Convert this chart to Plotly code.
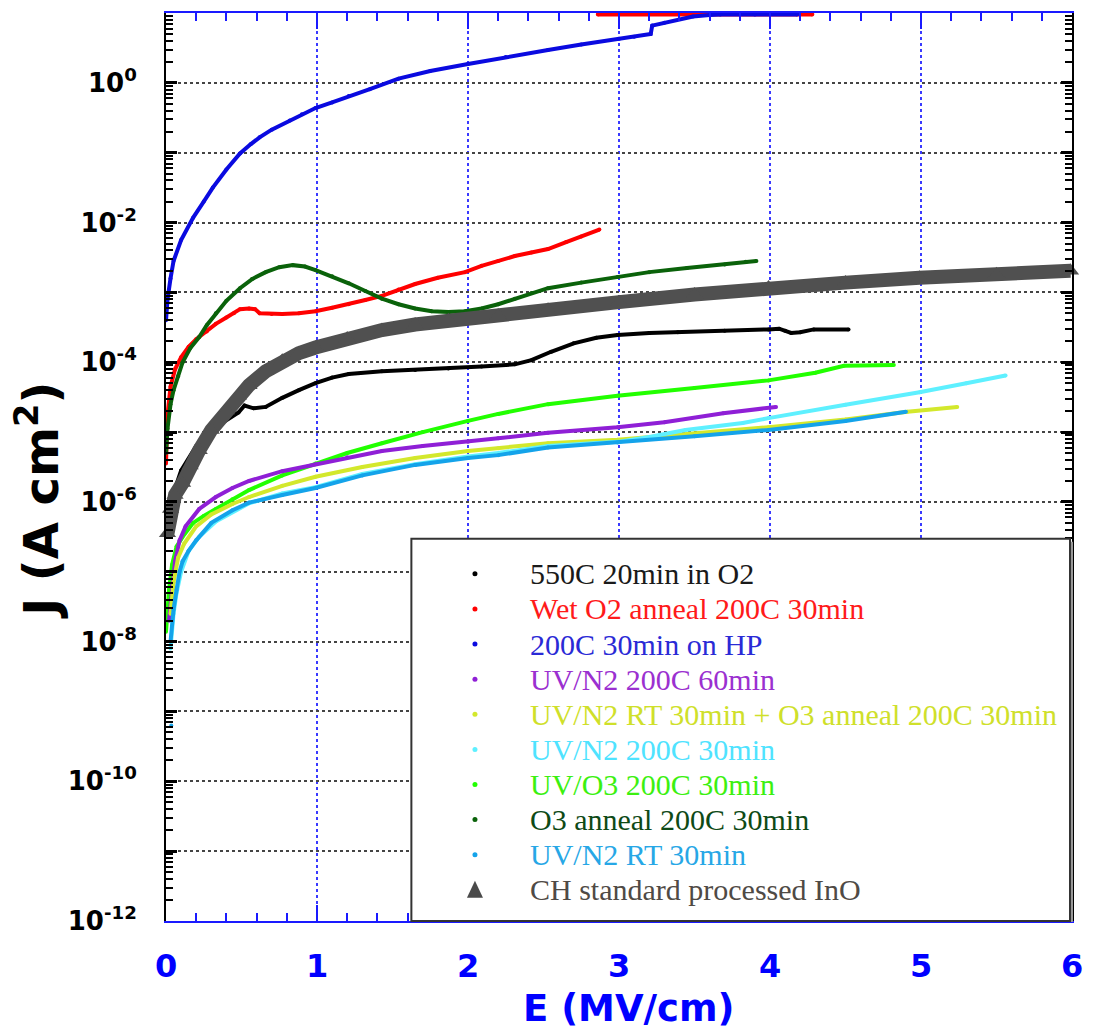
import numpy as np
import plotly.graph_objects as go

# ---- measured J-E curves: field E (MV/cm) and log10 of current density J (A/cm^2) ----
E_550C = [0.0, 0.03, 0.1, 0.2, 0.35, 0.48, 0.52, 0.58, 0.66, 0.77, 0.88, 0.99, 1.1, 1.21, 1.43, 1.65,
          1.87, 2.09, 2.31, 2.42, 2.55, 2.7, 2.85, 2.99, 3.2, 3.39, 3.7, 3.99, 4.06, 4.1, 4.14, 4.2, 4.29, 4.52]
logJ_550C = [-6.5, -6.0, -5.55, -5.2, -4.9, -4.72, -4.62, -4.66, -4.64, -4.51, -4.4, -4.3, -4.22, -4.17, -4.13, -4.11,
             -4.09, -4.06, -4.03, -3.97, -3.85, -3.73, -3.65, -3.61, -3.58, -3.57, -3.55, -3.53, -3.52, -3.55, -3.58, -3.57, -3.53, -3.53]

E_wetO2 = [0.0, 0.005, 0.01, 0.03, 0.06, 0.1, 0.15, 0.2, 0.27, 0.33, 0.40, 0.45, 0.49, 0.55, 0.59, 0.62, 0.7, 0.77,
           0.88, 0.99, 1.1, 1.21, 1.32, 1.43, 1.54, 1.65, 1.8, 1.98, 2.09, 2.2, 2.31, 2.42, 2.53, 2.65, 2.75, 2.87,
           None, 2.86, 4.28]
logJ_wetO2 = [-5.45, -5.0, -4.75, -4.35, -4.1, -3.93, -3.78, -3.67, -3.56, -3.45, -3.36, -3.3, -3.24, -3.23, -3.24, -3.3, -3.31, -3.31,
              -3.3, -3.27, -3.22, -3.17, -3.11, -3.05, -2.96, -2.88, -2.79, -2.71, -2.62, -2.55, -2.48, -2.43, -2.38, -2.28, -2.2, -2.1,
              None, 0.98, 0.98]

E_hp = [0.0, 0.01, 0.03, 0.05, 0.1, 0.18, 0.25, 0.31, 0.4, 0.49, 0.56, 0.62, 0.7, 0.82, 0.9, 0.99, 1.1, 1.21, 1.35,
        1.54, 1.75, 2.0, 2.25, 2.53, 2.75, 3.0, 3.1, 3.21, 3.22, 3.3, 3.49, 3.6, 3.67, 3.9, 4.18]
logJ_hp = [-3.4, -3.1, -2.8, -2.55, -2.25, -1.93, -1.7, -1.5, -1.24, -1.01, -0.88, -0.78, -0.67, -0.54, -0.45, -0.36, -0.28, -0.19, -0.09,
           0.06, 0.17, 0.27, 0.37, 0.47, 0.55, 0.63, 0.66, 0.70, 0.82, 0.86, 0.95, 0.97, 0.98, 0.98, 0.98]

E_uvn2_60 = [0.02, 0.04, 0.06, 0.09, 0.13, 0.22, 0.33, 0.44, 0.55, 0.77, 0.99, 1.2, 1.43, 1.7, 2.0, 2.2, 2.53, 2.99, 3.3, 3.69, 4.04]
logJ_uvn2_60 = [-7.7, -7.2, -6.85, -6.55, -6.35, -6.1, -5.93, -5.8, -5.7, -5.56, -5.46, -5.36, -5.27, -5.2, -5.14, -5.09, -5.01,
                -4.93, -4.86, -4.73, -4.64]

E_uvn2rt_o3 = [0.03, 0.05, 0.08, 0.12, 0.2, 0.3, 0.44, 0.55, 0.77, 0.99, 1.3, 1.65, 2.0, 2.2, 2.53, 2.99, 3.5, 3.99, 4.5, 4.91, 5.24]
logJ_uvn2rt_o3 = [-7.6, -7.15, -6.8, -6.6, -6.35, -6.18, -6.03, -5.93, -5.77, -5.64, -5.5, -5.37, -5.27, -5.23, -5.16, -5.11,
                  -5.02, -4.93, -4.82, -4.71, -4.64]

E_uvn2_30 = [0.03, 0.05, 0.07, 0.1, 0.15, 0.22, 0.33, 0.55, 0.77, 0.99, 1.3, 1.65, 2.0, 2.2, 2.53, 2.99, 3.2, 3.44, 3.82,
             3.99, 4.5, 4.99, 5.3, 5.56]
logJ_uvn2_30 = [-8.1, -7.6, -7.3, -7.0, -6.7, -6.5, -6.28, -6.02, -5.88, -5.79, -5.6, -5.46, -5.35, -5.3, -5.2, -5.14, -5.07,
                -4.97, -4.87, -4.8, -4.61, -4.43, -4.3, -4.19]

E_uvo3 = [0.0, 0.02, 0.04, 0.07, 0.11, 0.18, 0.25, 0.33, 0.44, 0.55, 0.77, 0.99, 1.2, 1.43, 1.7, 2.0, 2.2, 2.53, 2.99, 3.5,
          3.99, 4.3, 4.49, 4.82]
logJ_uvo3 = [-7.86, -7.26, -6.9, -6.64, -6.5, -6.3, -6.2, -6.1, -5.96, -5.83, -5.62, -5.45, -5.3, -5.16, -5.0, -4.84, -4.74,
             -4.6, -4.48, -4.37, -4.26, -4.15, -4.05, -4.04]

E_o3 = [0.0, 0.01, 0.03, 0.05, 0.08, 0.11, 0.16, 0.22, 0.27, 0.33, 0.4, 0.49, 0.57, 0.66, 0.75, 0.84, 0.92, 0.99, 1.1,
        1.21, 1.32, 1.43, 1.54, 1.65, 1.76, 1.87, 1.98, 2.09, 2.2, 2.31, 2.42, 2.53, 2.75, 2.99, 3.2, 3.45, 3.7, 3.84, 3.91]
logJ_o3 = [-5.3, -4.95, -4.6, -4.4, -4.2, -4.0, -3.8, -3.64, -3.47, -3.3, -3.12, -2.94, -2.81, -2.71, -2.64, -2.61, -2.63,
           -2.68, -2.77, -2.87, -2.98, -3.09, -3.17, -3.23, -3.27, -3.28, -3.27, -3.23, -3.17, -3.09, -3.01, -2.94,
           -2.86, -2.78, -2.71, -2.65, -2.6, -2.56, -2.55]

E_uvn2rt = [0.035, None, 0.03, 0.05, 0.07, 0.09, 0.11, 0.15, 0.2, 0.3, 0.44, 0.55, 0.77, 0.99, 1.3, 1.65, 2.0, 2.2, 2.53,
            2.99, 3.5, 3.99, 4.5, 4.9]
logJ_uvn2rt = [-9.2, None, -8.0, -7.54, -7.26, -7.0, -6.85, -6.7, -6.55, -6.3, -6.12, -6.01, -5.9, -5.8, -5.62, -5.47, -5.37,
               -5.33, -5.22, -5.15, -5.06, -4.97, -4.84, -4.71]

E_ch = [0.01, 0.03, 0.06, 0.11, 0.16, 0.22, 0.3, 0.4, 0.48, 0.55, 0.66, 0.77, 0.88, 0.99, 1.2, 1.43, 1.65, 1.87, 2.2,
        2.53, 3.0, 3.5, 3.99, 4.5, 4.99, 5.5, 5.99]
logJ_ch = [-6.45, -6.1, -5.9, -5.73, -5.48, -5.26, -4.97, -4.69, -4.48, -4.33, -4.13, -3.98, -3.87, -3.79, -3.66, -3.54,
           -3.46, -3.4, -3.33, -3.25, -3.14, -3.03, -2.93, -2.86, -2.79, -2.74, -2.69]

legend_names = [
    "550C 20min in O2",
    "Wet O2 anneal 200C 30min",
    "200C 30min on HP",
    "UV/N2 200C 60min",
    "UV/N2 RT 30min + O3 anneal 200C 30min",
    "UV/N2 200C 30min",
    "UV/O3 200C 30min",
    "O3 anneal 200C 30min",
    "UV/N2 RT 30min",
    "CH standard processed InO",
]
line_colors = ["#000000", "#ff0000", "#0a0ae0", "#8f1fd6", "#d3e82c", "#5ef0ff", "#22ff00", "#0a620a", "#14a3ea", "#505050"]
text_colors = ["#1a1a1a", "#ff1a1a", "#2a2ad6", "#9b30d0", "#cfe02a", "#4fe3ff", "#3cf010", "#0e4a16", "#27a7e6", "#4f4a45"]

series = [
    (E_550C, logJ_550C), (E_wetO2, logJ_wetO2), (E_hp, logJ_hp), (E_uvn2_60, logJ_uvn2_60),
    (E_uvn2rt_o3, logJ_uvn2rt_o3), (E_uvn2_30, logJ_uvn2_30), (E_uvo3, logJ_uvo3), (E_o3, logJ_o3),
    (E_uvn2rt, logJ_uvn2rt), (E_ch, logJ_ch),
]


def to_J(vals):
    return [None if v is None else 10.0 ** v for v in vals]


fig = go.Figure()

# drawing order: lower layers first, HP curve last so it sits on top
draw_order = [0, 1, 7, 6, 3, 4, 5, 8, 9, 2]
for i in draw_order:
    E, lj = series[i]
    if i == 9:
        fig.add_trace(go.Scatter(
            x=E, y=to_J(lj), mode="lines+markers", showlegend=False, cliponaxis=False,
            line=dict(color=line_colors[i], width=14),
            marker=dict(symbol="triangle-up", size=15, color=line_colors[i]),
        ))
    else:
        fig.add_trace(go.Scatter(
            x=E, y=to_J(lj), mode="lines+markers", showlegend=False,
            line=dict(color=line_colors[i], width=4),
            marker=dict(size=4, color=line_colors[i]),
        ))

# ---- plot-area geometry in pixels (for placing the key box and titles) ----
W, H = 1094, 1035
L, R, T, B = 166, 1078, 11, 921


def px2x(px):
    return (px - L) / (R - L)


def py2y(py):
    return (B - py) / (B - T)


shapes = []
annotations = []

# key box with a soft drop shadow
box_x0, box_x1, box_y0, box_y1 = 413, 1076, 538, 921
shapes.append(dict(type="rect", xref="paper", yref="paper", layer="above",
                   x0=px2x(box_x0 + 3), x1=px2x(box_x1 + 3), y0=py2y(box_y1 + 1), y1=py2y(box_y0 + 3),
                   line=dict(width=0), fillcolor="#9a9a9a"))
shapes.append(dict(type="rect", xref="paper", yref="paper", layer="above",
                   x0=px2x(box_x0), x1=px2x(box_x1), y0=py2y(box_y1), y1=py2y(box_y0),
                   line=dict(color="#333333", width=2), fillcolor="white"))

row0, row_step = 573, 35.2
mark_x, text_x = 477, 530
for i, name in enumerate(legend_names):
    py = row0 + row_step * i
    if i == 9:
        shapes.append(dict(type="path", xref="paper", yref="paper", layer="above",
                           xsizemode="pixel", ysizemode="pixel",
                           xanchor=px2x(mark_x), yanchor=py2y(py),
                           path="M -8,-8 L 8,-8 L 0,9 Z",
                           fillcolor="#4a4a4a", line=dict(width=0)))
    else:
        shapes.append(dict(type="circle", xref="paper", yref="paper", layer="above",
                           xsizemode="pixel", ysizemode="pixel",
                           xanchor=px2x(mark_x), yanchor=py2y(py),
                           x0=-2.5, x1=2.5, y0=-2.5, y1=2.5,
                           fillcolor=line_colors[i], line=dict(width=0)))
    annotations.append(dict(xref="paper", yref="paper", x=px2x(text_x), y=py2y(py),
                            xanchor="left", yanchor="middle", showarrow=False, text=name,
                            font=dict(family="Liberation Serif, Times New Roman, serif", size=30,
                                      color=text_colors[i])))

# axis titles
annotations.append(dict(xref="paper", yref="paper", x=px2x(632), y=py2y(1009),
                        xanchor="center", yanchor="middle", showarrow=False,
                        text="<b>E (MV/cm)</b>",
                        font=dict(family="DejaVu Sans, Arial, sans-serif", size=37, color="#0000ff")))
annotations.append(dict(xref="paper", yref="paper", x=px2x(37), y=py2y(499),
                        xanchor="center", yanchor="middle", showarrow=False, textangle=-90,
                        text="<b>J (A cm<sup>2</sup>)</b>",
                        font=dict(family="DejaVu Sans, Arial, sans-serif", size=48, color="black")))

# y ticks: every decade, labels on even decades
decades = list(range(-12, 2))
y_tickvals = [10.0 ** k for k in decades]
y_ticktext = [f"<b>10<sup>{k}</sup></b>" if (k % 2 == 0 and k <= 0) else "" for k in decades]
y_minor = [m * 10.0 ** k for k in range(-12, 1) for m in range(2, 10)]

blue_axis = "#1a1aff"
fig.update_layout(
    width=W, height=H,
    margin=dict(l=L, r=W - R, t=T, b=H - B),
    paper_bgcolor="white", plot_bgcolor="white",
    showlegend=False,
    shapes=shapes, annotations=annotations,
    xaxis=dict(
        range=[0, 6], dtick=1, tick0=0,
        showline=True, linecolor=blue_axis, linewidth=2, mirror="ticks",
        ticks="inside", ticklen=16, tickwidth=2, tickcolor=blue_axis,
        minor=dict(dtick=0.2, tick0=0, ticks="inside", ticklen=8, tickwidth=1.5,
                   tickcolor=blue_axis, showgrid=False),
        showgrid=True, gridcolor="#3a3aff", griddash="dot", gridwidth=1.5,
        zeroline=False,
        tickfont=dict(family="DejaVu Sans, Arial, sans-serif", size=32, color="#0000ff", weight="bold"),
        ticklabelstandoff=16,
    ),
    yaxis=dict(
        type="log", range=[-12, 1],
        tickmode="array", tickvals=y_tickvals, ticktext=y_ticktext,
        showline=True, linecolor="black", linewidth=2, mirror="ticks",
        ticks="inside", ticklen=11, tickwidth=2.5, tickcolor="black",
        minor=dict(tickmode="array", tickvals=y_minor, ticks="inside", ticklen=7, tickwidth=1.5,
                   tickcolor="black", showgrid=False),
        showgrid=True, gridcolor="#444444", griddash="dot", gridwidth=2,
        zeroline=False,
        tickfont=dict(family="DejaVu Sans, Arial, sans-serif", size=26, color="black"),
        ticklabelstandoff=22,
    ),
)

fig.write_html("out.html")
